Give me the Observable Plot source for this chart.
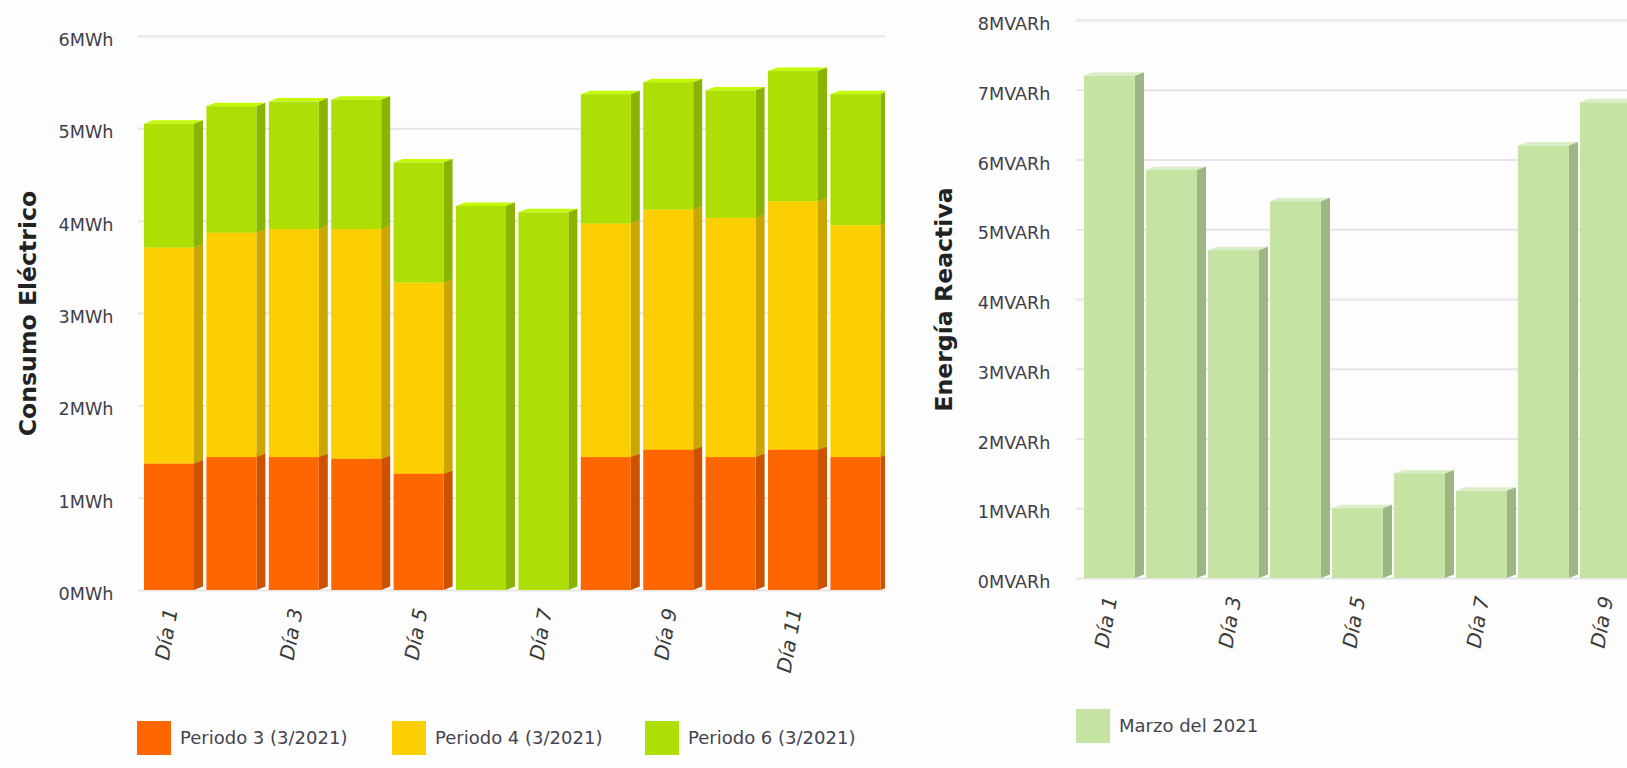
<!DOCTYPE html>
<html lang="es">
<head>
<meta charset="utf-8">
<script src="https://cdn.jsdelivr.net/npm/d3@7"></script>
<script src="https://cdn.jsdelivr.net/npm/@observablehq/plot@0.6"></script>
<style>
  html, body { margin: 0; padding: 0; background: #fdfdfd; }
  body { position: relative; width: 1627px; height: 768px; overflow: hidden; font-family: "DejaVu Sans", sans-serif; }
  .chart { position: absolute; top: 0; }
  .swatch { position: absolute; width: 34px; height: 34px; }
  .ltext { position: absolute; font-size: 18px; line-height: 34px; color: #44444f; white-space: nowrap; }
</style>
</head>
<body>
<script>
const diasLeft = ["Día 1","Día 2","Día 3","Día 4","Día 5","Día 6","Día 7","Día 8","Día 9","Día 10","Día 11","Día 12"];
const periodo3 = [1.37,1.44,1.44,1.42,1.26,0,0,1.44,1.52,1.44,1.52,1.44];
const periodo4 = [2.34,2.43,2.47,2.49,2.07,0,0,2.53,2.60,2.59,2.69,2.51];
const periodo6 = [1.34,1.37,1.38,1.40,1.30,4.16,4.09,1.40,1.38,1.38,1.41,1.42];
const seriesNames = ["Periodo 3 (3/2021)","Periodo 4 (3/2021)","Periodo 6 (3/2021)"];
const seriesColors = ["#ff6600","#fccf02","#addf04"];
const ticksLeft = [0,1,2,3,4,5,6];

const diasRight = ["Día 1","Día 2","Día 3","Día 4","Día 5","Día 6","Día 7","Día 8","Día 9"];
const marzo = [7.2,5.85,4.7,5.4,1.0,1.5,1.25,6.2,6.82];
const marzoName = "Marzo del 2021";
const marzoColor = "#c5e3a3";
const ticksRight = [0,1,2,3,4,5,6,7,8];

const oddOnly = (d) => d.filter((_, i) => i % 2 === 0);

// Top and side faces of each box, placed from the chart's own scales.
function boxFaces(rows) {
  return (index, scales) => {
    const x = scales.x, y = scales.y, bw = x.bandwidth();
    const d = 9, h = 3.5;
    const NS = "http://www.w3.org/2000/svg";
    const faces = document.createElementNS(NS, "g");
    const poly = (pts, fill) => {
      const p = document.createElementNS(NS, "polygon");
      p.setAttribute("points", pts.map((q) => q.join(",")).join(" "));
      p.setAttribute("fill", fill);
      faces.appendChild(p);
    };
    const box = rows.filter((r) => r.y2 > r.y1).map((r) => ({x: x(r.dia), y0: y(r.y1), y1: y(r.y2), fill: r.color}));
    for (const b of box) {
      const c = d3.hsl(b.fill); c.l = Math.min(1, c.l * 1.12);
      poly([[b.x, b.y1], [b.x + bw, b.y1], [b.x + bw + d, b.y1 - h], [b.x + d, b.y1 - h]], c.formatHex());
    }
    for (const b of box) {
      poly([[b.x + bw, b.y0], [b.x + bw + d, b.y0 - h], [b.x + bw + d, b.y1 - h], [b.x + bw, b.y1]], d3.rgb(b.fill).darker(0.62).formatHex());
    }
    return faces;
  };
}

function frameMarks({ticks, unit, title, titleDx, tickPadding, labelTicks, labelDx}) {
  return [
    Plot.gridY(ticks, {stroke: "#e6e6e6", strokeOpacity: 1, strokeWidth: 2}),
    Plot.axisY({ticks, tickSize: 0, tickPadding, tickFormat: (d) => d + unit, label: null, fill: "#3f3f4a", dy: 4}),
    Plot.axisX({ticks: labelTicks, tickSize: 0, tickPadding: 18, tickRotate: -80, label: null, fontStyle: "italic", fontSize: 20, fill: "#3a3a3a", dx: labelDx}),
    Plot.text([title], {frameAnchor: "left", dx: titleDx, rotate: -90, textAnchor: "middle", lineAnchor: "middle", fontWeight: "bold", fontSize: 23.6, fill: "#222"})
  ];
}

const baseStyle = {fontFamily: "DejaVu Sans, sans-serif", fontSize: "17.6px", background: "transparent"};

// Stack the three periods into one table of boxes.
const rowsLeft = diasLeft.flatMap((dia, i) => {
  let base = 0;
  return [periodo3, periodo4, periodo6].map((s, k) => {
    const row = {dia, periodo: seriesNames[k], color: seriesColors[k], y1: base, y2: base + s[i]};
    base += s[i];
    return row;
  });
});

const left = Plot.plot({
  width: 885, height: 700,
  marginLeft: 138, marginRight: 0, marginTop: 36, marginBottom: 110,
  style: {...baseStyle, overflow: "hidden"},
  x: {domain: diasLeft, range: [144, 880.4], paddingInner: 0.199, paddingOuter: 0, align: 0, round: false},
  y: {domain: [0, 6]},
  color: {domain: seriesNames, range: seriesColors},
  marks: [
    ...frameMarks({ticks: ticksLeft, unit: "MWh", title: "Consumo Eléctrico", titleDx: -110, tickPadding: 25, labelTicks: oddOnly(diasLeft).slice(0, 6), labelDx: 2}),
    boxFaces(rowsLeft),
    Plot.barY(rowsLeft, {x: "dia", y1: "y1", y2: "y2", fill: "periodo"})
  ]
});
left.classList.add("chart");
left.style.left = "0px";
document.body.appendChild(left);

const rowsRight = marzo.map((v, i) => ({dia: diasRight[i], y1: 0, y2: v, color: marzoColor}));
const right = Plot.plot({
  width: 737, height: 700,
  marginLeft: 186, marginRight: 0, marginTop: 20, marginBottom: 122,
  style: {...baseStyle, overflow: "hidden"},
  x: {domain: diasRight, range: [194, 741], paddingInner: 0.177, paddingOuter: 0, align: 0, round: false},
  y: {domain: [0, 8]},
  marks: [
    ...frameMarks({ticks: ticksRight, unit: "MVARh", title: "Energía Reactiva", titleDx: -132, tickPadding: 26, labelTicks: oddOnly(diasRight), labelDx: 1}),
    boxFaces(rowsRight),
    Plot.barY(rowsRight, {x: "dia", y1: "y1", y2: "y2", fill: marzoColor})
  ]
});
right.classList.add("chart");
right.style.left = "890px";
document.body.appendChild(right);

function legendItem(name, color, x, y) {
  const s = document.createElement("div");
  s.className = "swatch";
  s.style.cssText = `left:${x}px;top:${y}px;background:${color}`;
  const t = document.createElement("div");
  t.className = "ltext";
  t.style.cssText = `left:${x + 43}px;top:${y}px`;
  t.textContent = name;
  document.body.append(s, t);
}
const legendX = [137, 392, 645];
seriesNames.forEach((n, i) => legendItem(n, seriesColors[i], legendX[i], 721));
legendItem(marzoName, marzoColor, 1076, 709);
</script>
</body>
</html>
